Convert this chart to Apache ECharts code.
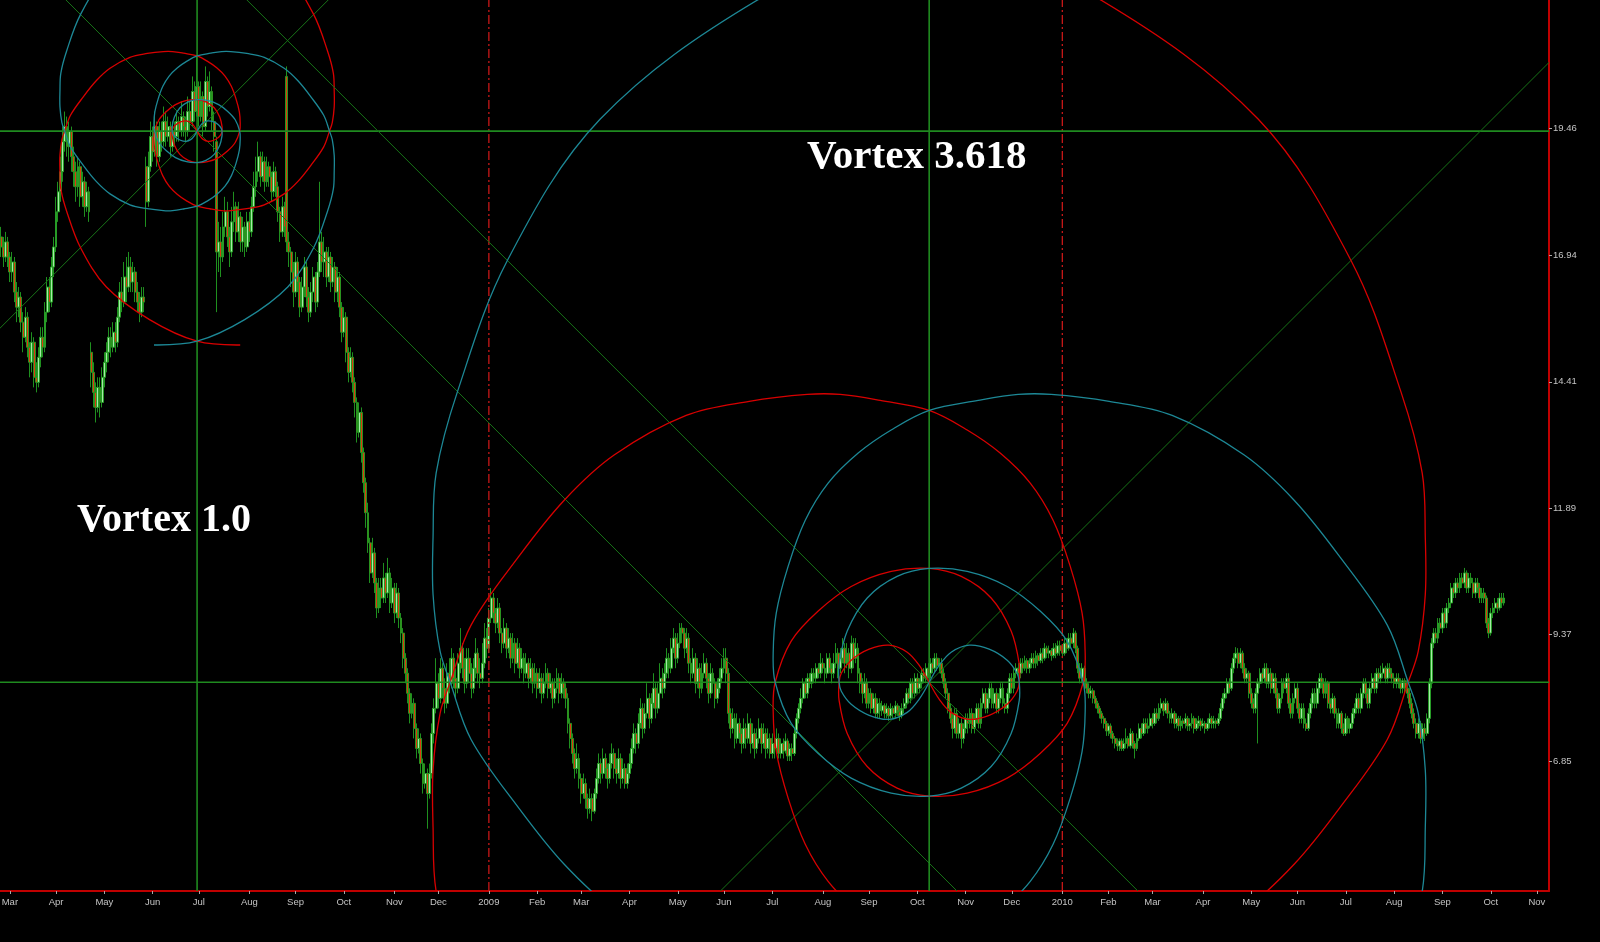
<!DOCTYPE html>
<html>
<head>
<meta charset="utf-8">
<script src="https://cdn.jsdelivr.net/npm/echarts@6/dist/echarts.min.js"></script>
<style>html,body{margin:0;padding:0;background:#000;}#chart{width:1600px;height:942px;}</style>
</head>
<body>
<div id="chart"></div>
<script>
// ---------- axis definitions ----------
const START_DATE = [2008, 1, 26];          // first weekday on the time axis (26 Feb 2008)
const CATEGORY_COUNT = 705;                // weekdays shown on the axis (to early Nov 2010)
const MONTH_NAMES = ['Jan','Feb','Mar','Apr','May','Jun','Jul','Aug','Sep','Oct','Nov','Dec'];
const Y_MIN = 4.258, Y_MAX = 22.024;
const yTickValues = [6.85, 9.37, 11.89, 14.41, 16.94, 19.46];

// ---------- daily candles [open, close, low, high] ----------
const ohlc2008 = [
[17.3,17.1,16.9,17.5],[17.1,16.9,16.7,17.3],[16.9,17.2,16.8,17.4],[17.2,16.9,16.7,17.3],[16.9,16.6,16.4,17],[16.6,16.8,16.4,17],[16.8,16.2,16,16.9],[16.2,15.9,15.6,16.4],[15.9,16.1,15.7,16.3],[16.1,15.6,15.4,16.2],
[15.6,15.3,15,15.8],[15.3,15.7,15.2,15.9],[15.7,15.1,14.9,15.8],[15.1,14.8,14.5,15.2],[14.8,15.2,14.6,15.4],[15.2,14.5,14.3,15.3],[14.5,14.4,14.2,14.8],[14.4,14.9,14.3,15.1],[14.9,15.3,14.7,15.5],[15.3,15.1,14.9,15.5],
[15.1,15.8,15,16],[15.8,16.3,15.6,16.5],[16.3,16,15.8,16.5],[16,16.7,15.9,16.9],[16.7,17.1,16.5,17.3],[17.1,17.8,17,18.1],[17.8,18.2,17.6,18.4],[18.2,18.6,18,18.9],[18.6,19.2,18.4,19.5],[19.2,19.5,19,19.8],
[19.5,19.1,18.9,19.7],[19.1,19.4,18.8,19.6],[19.4,18.9,18.6,19.5],[18.9,18.6,18.3,19.1],[18.6,18.3,18,18.8],[18.3,18.7,18.1,18.9],[18.7,18.1,17.9,18.8],[18.1,18.4,17.9,18.6],[18.4,17.9,17.7,18.5],[17.9,18.2,17.8,18.4],
[18.2,17.8,17.6,18.3],[15,14.6,14.3,15.2],[14.6,14.2,13.9,14.8],[14.2,13.9,13.6,14.4],[13.9,14.3,13.8,14.5],[14.3,14,13.7,14.5],[14,14.5,13.9,14.7],[14.5,14.8,14.3,15],[14.8,15,14.6,15.2],[15,15.3,14.8,15.5],
[15.3,15.1,14.9,15.5],[15.1,15.4,15,15.6],[15.4,15.2,15,15.6],[15.2,15.7,15.1,15.9],[15.7,16.2,15.6,16.4],[16.2,16,15.8,16.5],[16,16.5,15.9,16.8],[16.5,16.3,16,16.9],[16.3,16.7,16.2,17],[16.7,16.4,16.2,16.9],
[16.4,16.6,16.2,16.8],[16.6,16.2,16,16.7],[16.2,16,15.8,16.4],[16,15.8,15.6,16.2],[15.8,16.1,15.7,16.3],[16.1,16,15.8,16.3],[18.7,18,17.5,18.9],[18,18.7,17.9,19],[18.7,19.3,18.6,19.6],[19.3,19,18.8,19.5],
[19,19.5,18.9,19.8],[19.5,18.9,18.7,19.6],[18.9,19.4,18.8,19.6],[19.4,19.2,19,19.6],[19.2,19.6,19.1,19.9],[19.6,19.3,19.1,19.8],[19.3,19.5,19.2,19.7],[19.5,19.1,18.9,19.6],[19.1,19.4,19,19.6],[19.4,19.3,19.1,19.6],
[19.3,19.6,19.2,19.8],[19.6,19.4,19.2,19.7],[19.4,19.7,19.3,20],[19.7,19.5,19.3,19.8],[19.5,19.4,19.2,19.7],[19.4,19.8,19.3,20.1],[19.8,19.6,19.4,20],[19.6,20.2,19.5,20.5],[20.2,19.8,19.6,20.4],[19.8,20.3,19.7,20.9],
[20.3,19.7,19.5,20.4],[19.7,20.1,19.6,20.4],[20.1,19.5,19.3,20.2],[19.5,20.4,19.4,20.7],[20.4,19.9,19.7,20.5],[19.9,20.2,19.8,20.6],[20.2,19.6,19.4,20.3],[19.6,19.3,19,19.8],[19.2,17,15.8,19.3],[17,17.2,16.6,17.6],
[17.2,16.9,16.5,17.5],[16.9,17.5,16.8,17.8],[17.5,17.8,17.3,18.1],[17.8,17.3,17.1,18],[17.3,17,16.7,17.5],[17,17.6,16.9,17.9],[17.6,17.9,17.4,18.2],[17.9,17.4,17.2,18],[17.4,17.7,17.2,18],[17.7,17.2,17,17.8],
[17.2,17.5,17,17.7],[17.5,17.1,16.9,17.6],[17.1,17.6,17,17.8],[17.6,17.4,17.2,17.8],[17.4,17.9,17.3,18.1],[17.9,18.3,17.8,18.6],[18.3,18.6,18.1,18.9],[18.6,18.9,18.4,19.2],[18.9,18.5,18.3,19],[18.5,18.8,18.4,19],
[18.8,18.4,18.2,18.9],[18.4,18.7,18.3,18.9],[18.7,18.5,18.3,18.8],[18.5,18.2,18,18.6],[18.2,18.6,18.1,18.8],[18.6,18.3,18.1,18.7],[18.3,17.8,17.6,18.4],[17.8,17.4,17.2,17.9],[17.4,17.9,17.3,18.1],[17.9,17.5,17.3,18],
[20.5,17.2,17,20.7],[17.2,17,16.7,17.4],[17,16.6,16.3,17.1],[16.6,16.2,15.9,16.8],[16.2,16.8,16.1,17],[16.8,16.4,16.2,16.9],[16.4,15.9,15.7,16.5],[15.9,16.3,15.8,16.5],[16.3,16.7,16.1,16.9],[16.7,16.1,15.9,16.8],
[16.1,15.8,15.6,16.3],[15.8,16.2,15.7,16.4],[16.2,16.5,16,16.7],[16.5,16,15.8,16.6],[16,16.6,15.9,16.8],[16.6,17.2,16.5,18.4],[17.2,16.8,16.6,17.4],[16.8,17,16.5,17.3],[17,16.5,16.3,17.1],[16.5,16.9,16.4,17.1],
[16.9,16.4,16.2,17],[16.4,16.7,16.3,16.9],[16.7,16.2,16,16.8],[16.2,16.5,16,16.7],[16.5,15.9,15.7,16.6],[15.9,15.4,15.2,16],[15.4,15.7,15.3,15.9],[15.7,15,14.8,15.8],[15,14.6,14.4,15.1],[14.6,14.9,14.5,15.1],
[14.9,14.4,14.2,15],[14.4,14,13.7,14.5],[14,13.4,13.2,14.1],[13.4,13.8,13.3,14],[13.8,13,12.8,13.9],[13,12.4,12.2,13.1],[12.4,11.8,11.5,12.5],[11.8,11.2,11,12],[11.2,10.6,10.4,11.3],[10.6,11,10.5,11.3],
[11,10.4,10.2,11.1],[10.4,9.9,9.7,10.5],[9.9,10.3,9.8,10.5],[10.3,10.1,9.9,10.5],[10.1,10.5,10,10.8],[10.5,10.2,10,10.6],[10.2,10.6,10.1,10.9],[10.6,10,9.8,10.7],[10,10.3,9.9,10.5],[10.3,9.8,9.6,10.4],
[9.8,10.2,9.7,10.4],[10.2,9.7,9.5,10.3],[9.7,9.4,9.2,9.8],[9.4,8.9,8.7,9.5],[8.9,8.6,8.4,9],[8.6,8.2,8,8.7],[8.2,7.8,7.6,8.3],[7.8,8,7.7,8.2],[8,7.5,7.3,8.1],[7.5,7.1,6.9,7.6],
[7.1,7.3,7,7.5],[7.3,6.8,6.6,7.4],[6.8,6.4,6.2,6.9],[6.4,6.6,6.3,6.8],[6.6,6.2,5.5,6.7],[6.2,6.6,6.1,6.8],[6.6,7.4,6.5,7.6],[7.4,7.9,7.2,8.1],[7.9,8.4,7.8,8.9],[8.4,8.1,7.9,8.6],
[8.1,8.7,8,8.9],[8.7,8.3,8.1,8.8],[8.3,8,7.8,8.5],[8,8.6,7.9,8.8],[8.6,8.4,8.2,8.9],[8.4,8.9,8.3,9.1],[8.9,8.5,8.3,9],[8.5,8.3,8.1,8.7],[8.3,8.8,8.2,9],[8.8,9.1,8.6,9.5],
[9.1,8.7,8.5,9.2],[8.7,8.4,8.2,8.9],[8.4,8.9,8.3,9.1],[8.9,8.6,8.4,9.1],[8.6,8.3,8.1,8.8],[8.3,8.7,8.2,8.9],[8.7,9,8.5,9.3],[9,8.6,8.4,9.1],[8.6,8.5,8.3,8.9],[8.5,8.8,8.4,9.2],
[8.8,9.3,8.7,9.6],[9.3,9.1,8.9,9.5]
];
const ohlc2009 = [
[9.1,9.7,9,9.9],[9.7,10.1,9.6,10.3],[10.1,9.8,9.6,10.2],[9.8,9.6,9.4,9.9],[9.6,9.9,9.5,10.1],[9.9,9.4,9.2,10],[9.4,9.2,9,9.5],[9.2,9.5,9.1,9.7],[9.5,9.1,8.9,9.6],[9.1,9.3,9,9.5],
[9.3,8.9,8.7,9.4],[8.9,9.2,8.8,9.4],[9.2,8.8,8.6,9.3],[8.8,9.1,8.7,9.3],[9.1,8.7,8.5,9.2],[8.7,8.9,8.6,9.1],[8.9,8.6,8.4,9],[8.6,8.8,8.5,9],[8.8,8.5,8.3,8.9],[8.5,8.7,8.4,8.9],
[8.7,8.4,8.2,8.8],[8.4,8.6,8.3,8.8],[8.6,8.3,8.1,8.7],[8.3,8.5,8.2,8.7],[8.5,8.2,8,8.6],[8.2,8.4,8.1,8.6],[8.4,8.6,8.3,8.8],[8.6,8.3,8.1,8.7],[8.3,8.4,8.2,8.6],[8.4,8.1,7.9,8.5],
[8.1,8.3,8,8.5],[8.3,8.5,8.2,8.7],[8.5,8.2,8,8.6],[8.2,8.4,8.1,8.6],[8.4,8.3,8.1,8.5],[8.3,8.1,7.9,8.4],[8.1,7.6,7.4,8.2],[7.6,7.3,7.1,7.7],[7.3,7,6.8,7.4],[7,6.7,6.5,7.1],
[6.7,6.9,6.6,7.2],[6.9,6.5,6.3,7],[6.5,6.2,6,6.6],[6.2,6.4,6.1,6.6],[6.4,6.1,5.9,6.5],[6.1,5.9,5.7,6.2],[5.9,6.1,5.8,6.3],[6.1,5.85,5.65,6.2],[5.85,6.2,5.8,6.3],[6.2,6.5,6.1,6.7],
[6.5,6.8,6.4,7],[6.8,6.6,6.4,6.9],[6.6,6.9,6.5,7.1],[6.9,6.7,6.5,7],[6.7,6.5,6.3,6.8],[6.5,6.8,6.4,7],[6.8,7,6.7,7.2],[7,6.7,6.5,7.1],[6.7,6.6,6.4,6.9],[6.6,6.9,6.5,7.1],
[6.9,6.5,6.3,7],[6.5,6.7,6.4,6.9],[6.7,6.4,6.3,6.8],[6.4,6.6,6.3,6.8],[6.6,6.8,6.5,7],[6.8,7.1,6.7,7.3],[7.1,7.4,7,7.6],[7.4,7.2,7,7.5],[7.2,7.6,7.1,7.8],[7.6,7.9,7.5,8.1],
[7.9,7.5,7.3,8],[7.5,7.8,7.4,8],[7.8,8.1,7.7,8.4],[8.1,7.7,7.5,8.2],[7.7,8,7.6,8.2],[8,8.3,7.9,8.6],[8.3,7.9,7.7,8.4],[7.9,8.2,7.8,8.4],[8.2,8.5,8.1,8.8],[8.5,8.3,8.1,8.7],
[8.3,8.6,8.2,8.8],[8.6,8.9,8.5,9.1],[8.9,8.7,8.5,9],[8.7,9.1,8.6,9.3],[9.1,9.3,9,9.5],[9.3,8.9,8.7,9.4],[8.9,9.2,8.8,9.4],[9.2,9.5,9.1,9.6],[9.5,9.4,9.2,9.6],[9.4,9.1,8.9,9.5],
[9.1,9.3,9,9.5],[9.3,8.8,8.6,9.4],[8.8,8.6,8.4,8.9],[8.6,8.9,8.5,9.1],[8.9,8.4,8.2,9],[8.4,8.7,8.3,8.9],[8.7,8.3,8.1,8.8],[8.3,8.6,8.2,8.8],[8.6,8.8,8.5,9],[8.8,8.5,8.3,8.9],
[8.5,8.2,8,8.6],[8.2,8.6,8.1,8.8],[8.6,8.4,8.2,8.7],[8.4,8.1,7.9,8.5],[8.1,8.3,8,8.5],[8.3,8.5,8.2,8.7],[8.5,8.7,8.4,8.9],[8.7,8.9,8.6,9.1],[8.9,8.6,8.4,9.1],[8.6,7.8,7.6,8.7],
[7.8,7.5,7.3,7.9],[7.5,7.7,7.4,7.9],[7.7,7.3,7.1,7.8],[7.3,7.6,7.2,7.8],[7.6,7.4,7.2,7.7],[7.4,7.2,7,7.5],[7.2,7.5,7.1,7.7],[7.5,7.3,7.1,7.6],[7.3,7.6,7.2,7.8],[7.6,7.2,7,7.7],
[7.2,7.4,7.1,7.6],[7.4,7.1,6.9,7.5],[7.1,7.3,7,7.5],[7.3,7.5,7.2,7.7],[7.5,7.2,7,7.6],[7.2,7.4,7.1,7.6],[7.4,7.1,6.9,7.5],[7.1,7.3,7,7.5],[7.3,7,6.9,7.4],[7,7.2,6.9,7.4],
[7.2,7.1,6.9,7.3],[7.1,7.3,7,7.5],[7.3,7,6.9,7.4],[7,7.2,6.9,7.3],[7.2,7.05,6.9,7.3],[7.05,7.25,7,7.4],[7.25,6.95,6.85,7.3],[6.95,7.1,6.85,7.2],[7.1,7,6.85,7.2],[7,7.4,6.95,7.5],
[7.4,7.7,7.3,7.8],[7.7,7.9,7.6,8],[7.9,8.1,7.8,8.3],[8.1,8.4,8,8.5],[8.4,8.2,8.1,8.5],[8.2,8.5,8.1,8.6],[8.5,8.4,8.3,8.6],[8.4,8.6,8.3,8.7],[8.6,8.5,8.4,8.7],[8.5,8.7,8.4,8.8],
[8.7,8.6,8.5,8.8],[8.6,8.8,8.5,9],[8.8,8.7,8.6,8.9],[8.7,8.6,8.4,8.8],[8.6,8.9,8.5,9],[8.9,8.7,8.6,9],[8.7,8.6,8.4,8.8],[8.6,8.8,8.5,9],[8.8,9,8.7,9.2],[9,8.7,8.5,9.1],
[8.7,8.9,8.6,9.1],[8.9,9.1,8.8,9.3],[9.1,8.8,8.6,9.2],[8.8,9,8.7,9.2],[9,8.7,8.5,9.1],[8.7,9.2,8.6,9.35],[9.2,8.9,8.7,9.3],[8.9,9.1,8.8,9.3],[9.1,8.6,8.4,9.2],[8.6,8.4,8.2,8.7],
[8.4,8.2,8,8.5],[8.2,8.4,8.1,8.6],[8.4,8,7.9,8.5],[8,8.2,7.9,8.3],[8.2,7.9,7.8,8.3],[7.9,8.1,7.8,8.2],[8.1,7.8,7.7,8.2],[7.8,8,7.7,8.1],[8,7.85,7.7,8.1],[7.85,7.95,7.75,8.05],
[7.95,7.8,7.7,8],[7.8,7.9,7.7,8],[7.9,7.75,7.65,7.95],[7.75,7.9,7.7,8],[7.9,7.8,7.7,7.95],[7.8,7.95,7.7,8.05],[7.95,7.85,7.75,8],[7.85,7.75,7.65,7.95],[7.75,7.9,7.7,8],[7.9,8,7.8,8.1],
[8,8.2,7.9,8.3],[8.2,8.1,8,8.3],[8.1,8.4,8,8.5],[8.4,8.2,8.1,8.5],[8.2,8.5,8.1,8.6],[8.5,8.3,8.2,8.6],[8.3,8.4,8.2,8.5],[8.4,8.6,8.3,8.7],[8.6,8.5,8.4,8.7],[8.5,8.7,8.4,8.8],
[8.7,8.6,8.5,8.8],[8.6,8.8,8.5,8.9],[8.8,8.7,8.6,8.9],[8.7,8.9,8.6,9],[8.9,8.75,8.65,9],[8.75,8.8,8.6,8.9],[8.8,8.6,8.5,8.9],[8.6,8.4,8.3,8.7],[8.4,8.2,8.1,8.5],[8.2,7.9,7.8,8.3],
[7.9,7.7,7.6,8],[7.7,7.5,7.3,7.8],[7.5,7.8,7.4,7.9],[7.8,7.4,7.3,7.9],[7.4,7.6,7.3,7.7],[7.6,7.3,7.1,7.7],[7.3,7.5,7.2,7.6],[7.5,7.7,7.4,7.8],[7.7,7.6,7.4,7.8],[7.6,7.8,7.5,7.9],
[7.8,7.5,7.4,7.9],[7.5,7.7,7.4,7.8],[7.7,7.9,7.6,8],[7.9,7.6,7.5,8],[7.6,8,7.5,8.1],[8,8.2,7.9,8.3],[8.2,7.9,7.8,8.3],[7.9,8.1,7.8,8.2],[8.1,8.3,8,8.4],[8.3,8,7.9,8.4],
[8,8.2,7.9,8.3],[8.2,7.9,7.8,8.3],[7.9,8.1,7.8,8.2],[8.1,8.3,8,8.4],[8.3,8,7.9,8.4],[8,7.9,7.8,8.1],[7.9,8.2,7.8,8.3],[8.2,8.5,8.1,8.6],[8.5,8.3,8.2,8.6],[8.3,8.6,8.2,8.7],
[8.6,8.7,8.5,8.8],[8.7,8.6,8.5,8.8],[8.6,8.8,8.5,8.9],[8.8,8.7,8.6,8.9],[8.7,8.85,8.65,8.95],[8.85,8.7,8.6,8.9],[8.7,8.8,8.6,8.9],[8.8,8.9,8.7,9],[8.9,8.8,8.7,9],[8.8,8.95,8.7,9.05],
[8.95,8.85,8.75,9],[8.85,9,8.8,9.1],[9,8.9,8.8,9.1],[8.9,9.1,8.85,9.2],[9.1,9,8.9,9.15],[9,9.05,8.9,9.15],[9.05,8.95,8.85,9.1],[8.95,9.1,8.9,9.2],[9.1,9,8.9,9.2],[9,9.15,8.95,9.25],
[9.15,9.05,8.95,9.25]
];
const ohlc2010 = [
[9.05,9,8.9,9.15],[9,9.2,8.95,9.3],[9.2,9.1,9,9.3],[9.1,9.3,9.05,9.4],[9.3,9.2,9.1,9.4],[9.2,9.4,9.1,9.5],[9.4,9.1,9,9.45],[9.1,8.7,8.6,9.15],[8.7,8.5,8.4,8.8],[8.5,8.7,8.4,8.8],
[8.7,8.4,8.3,8.75],[8.4,8.3,8.2,8.5],[8.3,8.2,8.1,8.4],[8.2,8.25,8.1,8.35],[8.25,8.1,8,8.3],[8.1,8,7.9,8.15],[8,7.9,7.8,8.05],[7.9,7.8,7.7,7.95],[7.8,7.7,7.6,7.85],[7.7,7.6,7.5,7.75],
[7.6,7.45,7.35,7.65],[7.45,7.55,7.35,7.6],[7.55,7.4,7.3,7.6],[7.4,7.3,7.2,7.45],[7.3,7.2,7.1,7.35],[7.2,7.15,7.05,7.3],[7.15,7.25,7.05,7.3],[7.25,7.1,7.05,7.3],[7.1,7.2,7.05,7.3],[7.2,7.3,7.1,7.5],
[7.3,7.15,7.1,7.35],[7.15,7.4,7.1,7.5],[7.4,7.2,7.1,7.45],[7.2,7.1,6.9,7.25],[7.1,7.3,7.05,7.4],[7.3,7.5,7.25,7.6],[7.5,7.4,7.3,7.6],[7.4,7.6,7.35,7.7],[7.6,7.5,7.4,7.7],[7.5,7.55,7.4,7.7],
[7.55,7.7,7.5,7.8],[7.7,7.6,7.5,7.8],[7.6,7.8,7.55,7.9],[7.8,7.7,7.6,7.9],[7.7,7.9,7.65,8],[7.9,8,7.8,8.1],[8,7.85,7.75,8.05],[7.85,8,7.8,8.1],[8,7.8,7.7,8.05],[7.8,7.7,7.6,7.85],
[7.7,7.8,7.6,7.9],[7.8,7.6,7.5,7.85],[7.6,7.7,7.5,7.8],[7.7,7.55,7.45,7.75],[7.55,7.65,7.45,7.75],[7.65,7.6,7.5,7.7],[7.6,7.7,7.5,7.8],[7.7,7.55,7.45,7.75],[7.55,7.6,7.45,7.7],[7.6,7.7,7.5,7.8],
[7.7,7.5,7.4,7.75],[7.5,7.6,7.45,7.7],[7.6,7.65,7.5,7.75],[7.65,7.55,7.45,7.7],[7.55,7.6,7.5,7.7],[7.6,7.5,7.4,7.65],[7.5,7.6,7.45,7.7],[7.6,7.7,7.5,7.8],[7.7,7.6,7.5,7.75],[7.6,7.65,7.5,7.75],
[7.65,7.6,7.5,7.7],[7.6,7.7,7.55,7.8],[7.7,7.9,7.65,8],[7.9,8.1,7.85,8.2],[8.1,8.2,8,8.3],[8.2,8.4,8.1,8.5],[8.4,8.3,8.2,8.5],[8.3,8.7,8.25,8.8],[8.7,8.9,8.6,9],[8.9,9,8.8,9.12],
[9,8.8,8.7,9.1],[8.8,9,8.7,9.1],[9,8.7,8.6,9.05],[8.7,8.5,8.4,8.8],[8.5,8.6,8.4,8.7],[8.6,8.2,8.1,8.65],[8.2,8,7.9,8.3],[8,7.9,7.8,8.1],[7.9,8.2,7.8,8.3],[8.2,8.4,7.2,8.5],
[8.4,8.6,8.3,8.7],[8.6,8.5,8.4,8.7],[8.5,8.7,8.4,8.8],[8.7,8.4,8.3,8.8],[8.4,8.6,8.3,8.7],[8.6,8.3,8.2,8.7],[8.3,8.5,8.2,8.6],[8.5,8.2,8.1,8.6],[8.2,7.9,7.8,8.3],[7.9,8.1,7.8,8.2],
[8.1,8.4,8,8.5],[8.4,8.3,8.2,8.5],[8.3,8.5,8.2,8.6],[8.5,8,7.9,8.6],[8,7.8,7.7,8.1],[7.8,8.1,7.7,8.2],[8.1,8.3,8,8.4],[8.3,7.9,7.8,8.4],[7.9,7.7,7.6,8],[7.7,7.9,7.6,8],
[7.9,7.6,7.5,8],[7.6,7.5,7.45,7.7],[7.5,7.8,7.45,7.9],[7.8,8,7.7,8.1],[8,8.2,7.9,8.3],[8.2,8,7.9,8.3],[8,8.3,7.9,8.4],[8.3,8.5,8.2,8.6],[8.5,8.4,8.3,8.6],[8.4,8.2,8.1,8.5],
[8.2,8.4,8.1,8.5],[8.4,8,7.9,8.45],[8,7.9,7.8,8.1],[7.9,8.1,7.8,8.2],[8.1,7.8,7.7,8.15],[7.8,7.6,7.5,7.9],[7.6,7.8,7.5,7.9],[7.8,7.5,7.4,7.85],[7.5,7.4,7.35,7.6],[7.4,7.7,7.35,7.8],
[7.7,7.5,7.4,7.75],[7.5,7.6,7.4,7.7],[7.6,7.8,7.5,7.9],[7.8,7.9,7.7,8],[7.9,8.1,7.8,8.2],[8.1,7.9,7.8,8.2],[7.9,8.2,7.8,8.3],[8.2,8.4,8.1,8.5],[8.4,8.2,8.1,8.5],[8.2,8,7.9,8.3],
[8,8.3,7.9,8.4],[8.3,8.5,8.2,8.6],[8.5,8.3,8.2,8.6],[8.3,8.6,8.2,8.7],[8.6,8.5,8.4,8.7],[8.5,8.6,8.4,8.75],[8.6,8.7,8.5,8.8],[8.7,8.5,8.4,8.75],[8.5,8.7,8.4,8.8],[8.7,8.6,8.5,8.8],
[8.6,8.5,8.4,8.7],[8.5,8.4,8.3,8.6],[8.4,8.5,8.3,8.6],[8.5,8.4,8.3,8.6],[8.4,8.3,8.2,8.5],[8.3,8.45,8.2,8.5],[8.45,8.3,8.2,8.5],[8.3,8.2,8.1,8.4],[8.2,8,7.9,8.3],[8,7.8,7.7,8.1],
[7.8,7.6,7.5,7.9],[7.6,7.4,7.3,7.7],[7.4,7.6,7.3,7.7],[7.6,7.3,7.2,7.65],[7.3,7.5,7.2,7.6],[7.5,7.4,7.25,7.6],[7.4,7.7,7.35,7.8],[7.7,8.4,7.6,8.5],[8.4,9.2,8.3,9.3],[9.2,9.4,9.1,9.5],
[9.4,9.3,9.2,9.5],[9.3,9.6,9.2,9.7],[9.6,9.5,9.4,9.7],[9.5,9.8,9.4,9.9],[9.8,9.6,9.5,9.9],[9.6,9.9,9.5,10],[9.9,10,9.8,10.1],[10,10.3,9.9,10.4],[10.3,10.2,10.1,10.4],[10.2,10.4,10.1,10.5],
[10.4,10.3,10.2,10.5],[10.3,10.5,10.2,10.6],[10.5,10.4,10.3,10.6],[10.4,10.6,10.3,10.7],[10.6,10.3,10.2,10.65],[10.3,10.5,10.2,10.6],[10.5,10.4,10.3,10.6],[10.4,10.2,10.1,10.5],[10.2,10.4,10.1,10.5],[10.4,10.3,10.2,10.5],
[10.3,10.1,10,10.4],[10.1,10.2,10,10.3],[10.2,10.1,10,10.3],[10.1,9.6,9.5,10.15],[9.6,9.4,9.3,9.7],[9.4,9.8,9.35,9.9],[9.8,9.9,9.7,10],[9.9,10,9.8,10.1],[10,9.9,9.8,10.1],[9.9,10.1,9.85,10.2],
[10.1,10,9.9,10.2],[10,10.1,9.95,10.2]
];

// ---------- drawing objects (data units: weekday index, price) ----------
const vortexCentres = [[89.2, 19.41], [422.4, 8.42]];   // Vortex 1.0 and Vortex 3.618
const vortexSizes = [1.0, 3.618];
const vortexLabels = ['Vortex 1.0', 'Vortex 3.618'];
const labelAnchors = [[34.5, 11.24], [366.8, 18.48]];   // lower-left corner of each caption
const yearLines = [222, 483];                              // first weekday of 2009 and 2010
// one spiral arm measured on the 3.618 vortex: [weekdays from centre, price from centre]
const spiralArm = [
[0,0],[-4.6,0.34],[-10,0.6],[-18.2,0.74],[-27.3,0.66],[-35.5,0.44],[-40,0.18],[-41,0],[-41,-0.36],[-37.3,-1.02],
[-28.2,-1.68],[-14.6,-2.11],[0,-2.27],[17.3,-2.21],[35.5,-1.91],[50.5,-1.42],[62.8,-0.82],[70.1,0],[71,0.58],[69.6,1.38],
[64.2,2.31],[56.4,3.23],[46,3.97],[32.3,4.57],[17.3,5.03],[0,5.42],[-22.3,5.62],[-40.5,5.74],[-55.5,5.74],[-81.9,5.6],
[-110.6,5.32],[-143.4,4.53],[-166.1,3.63],[-187.1,2.49],[-208.5,1.14],[-218,0],[-222.6,-0.62],[-225.8,-1.75],[-225.8,-2.89],[-224.4,-4.17],
[-214.8,-5.78],[-192.1,-8.4],[-149.7,-11.23],[-78.3,-13.6],[0,-15.16],[71,-15.43]
];

// ---------- build ----------
const categories = [];
const catDates = [];
(function () {
  const d = new Date(Date.UTC(START_DATE[0], START_DATE[1], START_DATE[2]));
  while (categories.length < CATEGORY_COUNT) {
    const w = d.getUTCDay();
    if (w !== 0 && w !== 6) { categories.push(d.toISOString().slice(0, 10)); catDates.push(new Date(d.getTime())); }
    d.setUTCDate(d.getUTCDate() + 1);
  }
})();
const N = categories.length;
function isMonthStart(i) { return i > 0 && catDates[i].getUTCMonth() !== catDates[i - 1].getUTCMonth(); }
function monthLabel(v, i) {
  const d = catDates[i];
  return d.getUTCMonth() === 0 ? String(d.getUTCFullYear()) : MONTH_NAMES[d.getUTCMonth()];
}
const candles = ohlc2008.concat(ohlc2009, ohlc2010);

const RED = '#d80000', CYAN = '#1d8896', GREEN = '#1f8a1f', GREEN_D = '#177317';

function renderOverlay(params, api) {
  const cs = params.coordSys;
  const ch = [];
  const P = (x, y) => api.coord([x, y]);
  const seg = (a, b, style) => ch.push({ type: 'line', shape: { x1: a[0], y1: a[1], x2: b[0], y2: b[1] }, style: style });
  const lineSty = (c, w, dash) => ({ stroke: c, lineWidth: w, lineDash: dash || null, fill: null });

  // year separators
  yearLines.forEach(function (ix) { seg(P(ix, Y_MIN), P(ix, Y_MAX), lineSty('#c81818', 1.3, [9, 3, 2, 3])); });

  vortexCentres.forEach(function (c, k) {
    // centre cross
    seg(P(-0.5, c[1]), P(N - 0.5, c[1]), lineSty(GREEN, 1.6));
    seg(P(c[0], Y_MIN), P(c[0], Y_MAX), lineSty(GREEN, 1.6));
    // 45 degree lines through the centre
    const o = P(c[0], c[1]), ex = P(c[0] + 1, c[1]), ey = P(c[0], c[1] + 1);
    const slope = (ex[0] - o[0]) / (o[1] - ey[1]);
    [1, -1].forEach(function (sg) {
      seg(P(c[0] - 1500, c[1] - sg * slope * 1500), P(c[0] + 1500, c[1] + sg * slope * 1500), lineSty(GREEN_D, 1));
    });
    // four spiral arms
    const s = vortexSizes[k] / 3.618;
    [[1, 1, RED], [-1, -1, RED], [-1, 1, CYAN], [1, -1, CYAN]].forEach(function (t) {
      const pts = spiralArm.map(function (n) { return P(c[0] + s * t[0] * n[0], c[1] + s * t[1] * n[1]); });
      ch.push({ type: 'polyline', shape: { points: pts, smooth: 0.35 }, style: lineSty(t[2], 1.3) });
    });
  });

  // captions
  vortexLabels.forEach(function (txt, k) {
    const p = P(labelAnchors[k][0], labelAnchors[k][1]);
    ch.push({ type: 'text', x: p[0], y: p[1], style: { text: txt, fill: '#ffffff', font: 'bold ' + (k === 0 ? 40 : 41) + 'px "Liberation Serif", serif', align: 'left', verticalAlign: 'bottom', textAlign: 'left', textVerticalAlign: 'bottom' } });
  });

  return { type: 'group', children: ch, clipPath: { type: 'rect', shape: { x: cs.x, y: cs.y, width: cs.width, height: cs.height } } };
}

const chart = echarts.init(document.getElementById('chart'), null, { renderer: 'canvas' });
chart.setOption({
  backgroundColor: '#000000',
  animation: false,
  grid: { left: 0, right: 51, top: 0, bottom: 51, containLabel: false, outerBoundsMode: 'none' },
  xAxis: [{
    type: 'category', data: categories, boundaryGap: true,
    axisLine: { show: true, onZero: false, lineStyle: { color: '#c00000', width: 2 } },
    axisTick: { show: true, alignWithLabel: true, interval: isMonthStart, length: 3, lineStyle: { color: '#a8a8a8' } },
    axisLabel: { interval: isMonthStart, formatter: monthLabel, color: '#c4c4c4', fontSize: 9.5, fontFamily: 'Liberation Sans', margin: 6 },
    splitLine: { show: false }
  }, {
    type: 'value', min: -0.5, max: N - 0.5, show: false, gridIndex: 0, splitLine: { show: false }
  }],
  yAxis: [{
    type: 'value', position: 'right', min: Y_MIN, max: Y_MAX, scale: true,
    splitLine: { show: false },
    axisLine: { show: true, onZero: false, lineStyle: { color: '#c00000', width: 2 } },
    axisTick: { show: true, length: 3, customValues: yTickValues, lineStyle: { color: '#a8a8a8' } },
    axisLabel: { customValues: yTickValues, formatter: function (v) { return v.toFixed(2); }, color: '#c4c4c4', fontSize: 9.5, fontFamily: 'Liberation Sans', margin: 4 }
  }],
  series: [{
    type: 'candlestick', xAxisIndex: 0, yAxisIndex: 0, data: candles, large: false, barWidth: 2.4, z: 2,
    itemStyle: { color: '#a6eaa6', color0: '#dc3a10', borderColor: '#22a022', borderColor0: '#22a022', borderWidth: 0.9 }
  }, {
    type: 'custom', xAxisIndex: 1, yAxisIndex: 0, data: [[0, 0]], renderItem: renderOverlay, silent: true, z: 3, clip: true
  }]
});
</script>
</body>
</html>
